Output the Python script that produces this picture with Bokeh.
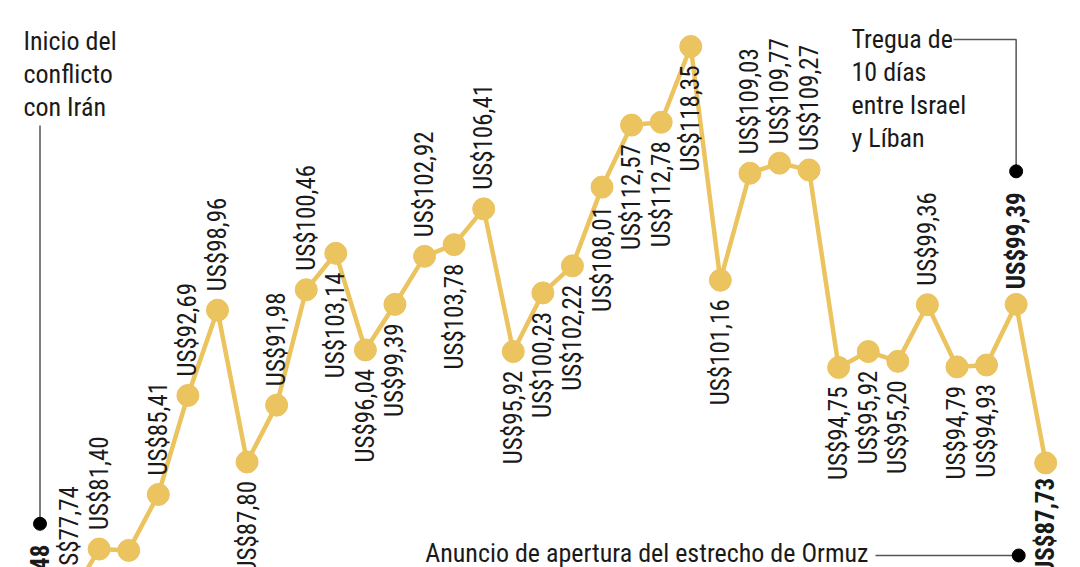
import math
from bokeh.plotting import figure
from bokeh.models import Range1d, ColumnDataSource
from bokeh.core.properties import value
from bokeh.embed import file_html
from bokeh.resources import INLINE

# ---------------- data ----------------
prices = [73.48, 77.74, 81.40, 81.30, 85.41, 92.69, 98.96, 87.80, 91.98, 100.46,
          103.14, 96.04, 99.39, 102.92, 103.78, 106.41, 95.92, 100.23, 102.22, 108.01,
          112.57, 112.78, 118.35, 101.16, 109.03, 109.77, 109.27, 94.75, 95.92, 95.20,
          99.36, 94.79, 94.93, 99.39, 87.73]
label_side = ["above", "above", "above", "below", "above", "above", "above", "below", "above", "above",
              "below", "below", "below", "above", "below", "above", "below", "below", "below", "below",
              "below", "below", "below", "below", "above", "above", "above", "below", "below", "below",
              "above", "below", "below", "above", "below"]
bold_points = [0, 33, 34]
event_texts = ["Inicio del\nconflicto\ncon Irán",
               "Tregua de\n10 días\nentre Israel\ny Líban",
               "Anuncio de apertura del estrecho de Ormuz"]
event_index = [0, 33, 34]

# ---------------- layout / style ----------------
GOLD = "#EBC35F"
INK = "#1a1a1a"
GREY = "#555555"
FONT = "'Roboto Condensed', 'DejaVu Sans Condensed', Roboto"
W, H = 1080, 567
X0, X1 = -1.3354, 35.176
Y0, Y1 = 80.042, 121.73
SX = W / (X1 - X0)
SY = H / (Y1 - Y0)


def dx(px):
    return px / SX


def dv(px):
    return px / SY


def sx_to_x(sx):
    return X0 + sx / SX


def sy_to_v(sy):
    return Y1 - sy / SY


p = figure(width=W, height=H, output_backend="svg", toolbar_location=None,
           x_range=Range1d(X0, X1), y_range=Range1d(Y0, Y1),
           min_border=0, min_border_left=0, min_border_right=0,
           min_border_top=0, min_border_bottom=0)
p.xaxis.visible = False
p.yaxis.visible = False
p.grid.visible = False
p.outline_line_color = None
p.background_fill_color = "white"
p.border_fill_color = "white"

idx = list(range(len(prices)))
src = ColumnDataSource(dict(x=idx, y=prices))
p.line("x", "y", source=src, line_color=GOLD, line_width=4.5)
p.scatter("x", "y", source=src, size=22, fill_color=GOLD, line_color=GOLD)

# value labels
reg = dict(x=[], y=[], t=[], a=[])
bld = dict(x=[], y=[], t=[], a=[])
for i, v in enumerate(prices):
    txt = "US$" + f"{v:.2f}".replace(".", ",")
    d = bld if i in bold_points else reg
    gap = dv(15) if i in bold_points else dv(19)
    if label_side[i] == "above":
        d["y"].append(v + gap)
        d["a"].append("left")
    else:
        d["y"].append(v - gap)
        d["a"].append("right")
    d["x"].append(i)
    d["t"].append(txt)

p.text("x", "y", text="t", source=ColumnDataSource(reg), angle=math.pi / 2,
       text_align="a", text_baseline="middle", text_font=value(FONT),
       text_font_size="25px", text_color=INK)
p.text("x", "y", text="t", source=ColumnDataSource(bld), angle=math.pi / 2,
       text_align="a", text_baseline="middle", text_font=value(FONT),
       text_font_size="25px", text_font_style="bold", text_color=INK)

# ---------------- event annotations ----------------
# 1) start of conflict
e0 = event_index[0]
d0 = prices[e0] + dv(133)
p.line([e0, e0], [d0, sy_to_v(125)], line_color=GREY, line_width=1.5)
p.scatter([e0], [d0], size=13, fill_color="black", line_color="black")
p.text([sx_to_x(23)], [sy_to_v(25)], text=[event_texts[0]], text_align="left",
       text_baseline="top", text_font=value(FONT), text_font_size="26px",
       text_line_height=1.1, text_color=INK)

# 2) truce
e1 = event_index[1]
d1 = prices[e1] + dv(133)
p.line([sx_to_x(953), e1, e1], [sy_to_v(39), sy_to_v(39), d1], line_color=GREY, line_width=1.5)
p.scatter([e1], [d1], size=13, fill_color="black", line_color="black")
p.text([sx_to_x(851)], [sy_to_v(23)], text=[event_texts[1]], text_align="left",
       text_baseline="top", text_font=value(FONT), text_font_size="26px",
       text_line_height=1.1, text_color=INK)

# 3) Hormuz announcement
e2 = event_index[2]
ax = e2 - dx(27)
ay = sy_to_v(555)
p.line([sx_to_x(875), ax], [ay, ay], line_color=GREY, line_width=1.5)
p.scatter([ax], [ay], size=13, fill_color="black", line_color="black")
p.text([sx_to_x(868)], [sy_to_v(552)], text=[event_texts[2]], text_align="right",
       text_baseline="alphabetic", text_font=value(FONT), text_font_size="26px",
       text_color=INK)

open("out.html", "w").write(file_html(p, INLINE))
